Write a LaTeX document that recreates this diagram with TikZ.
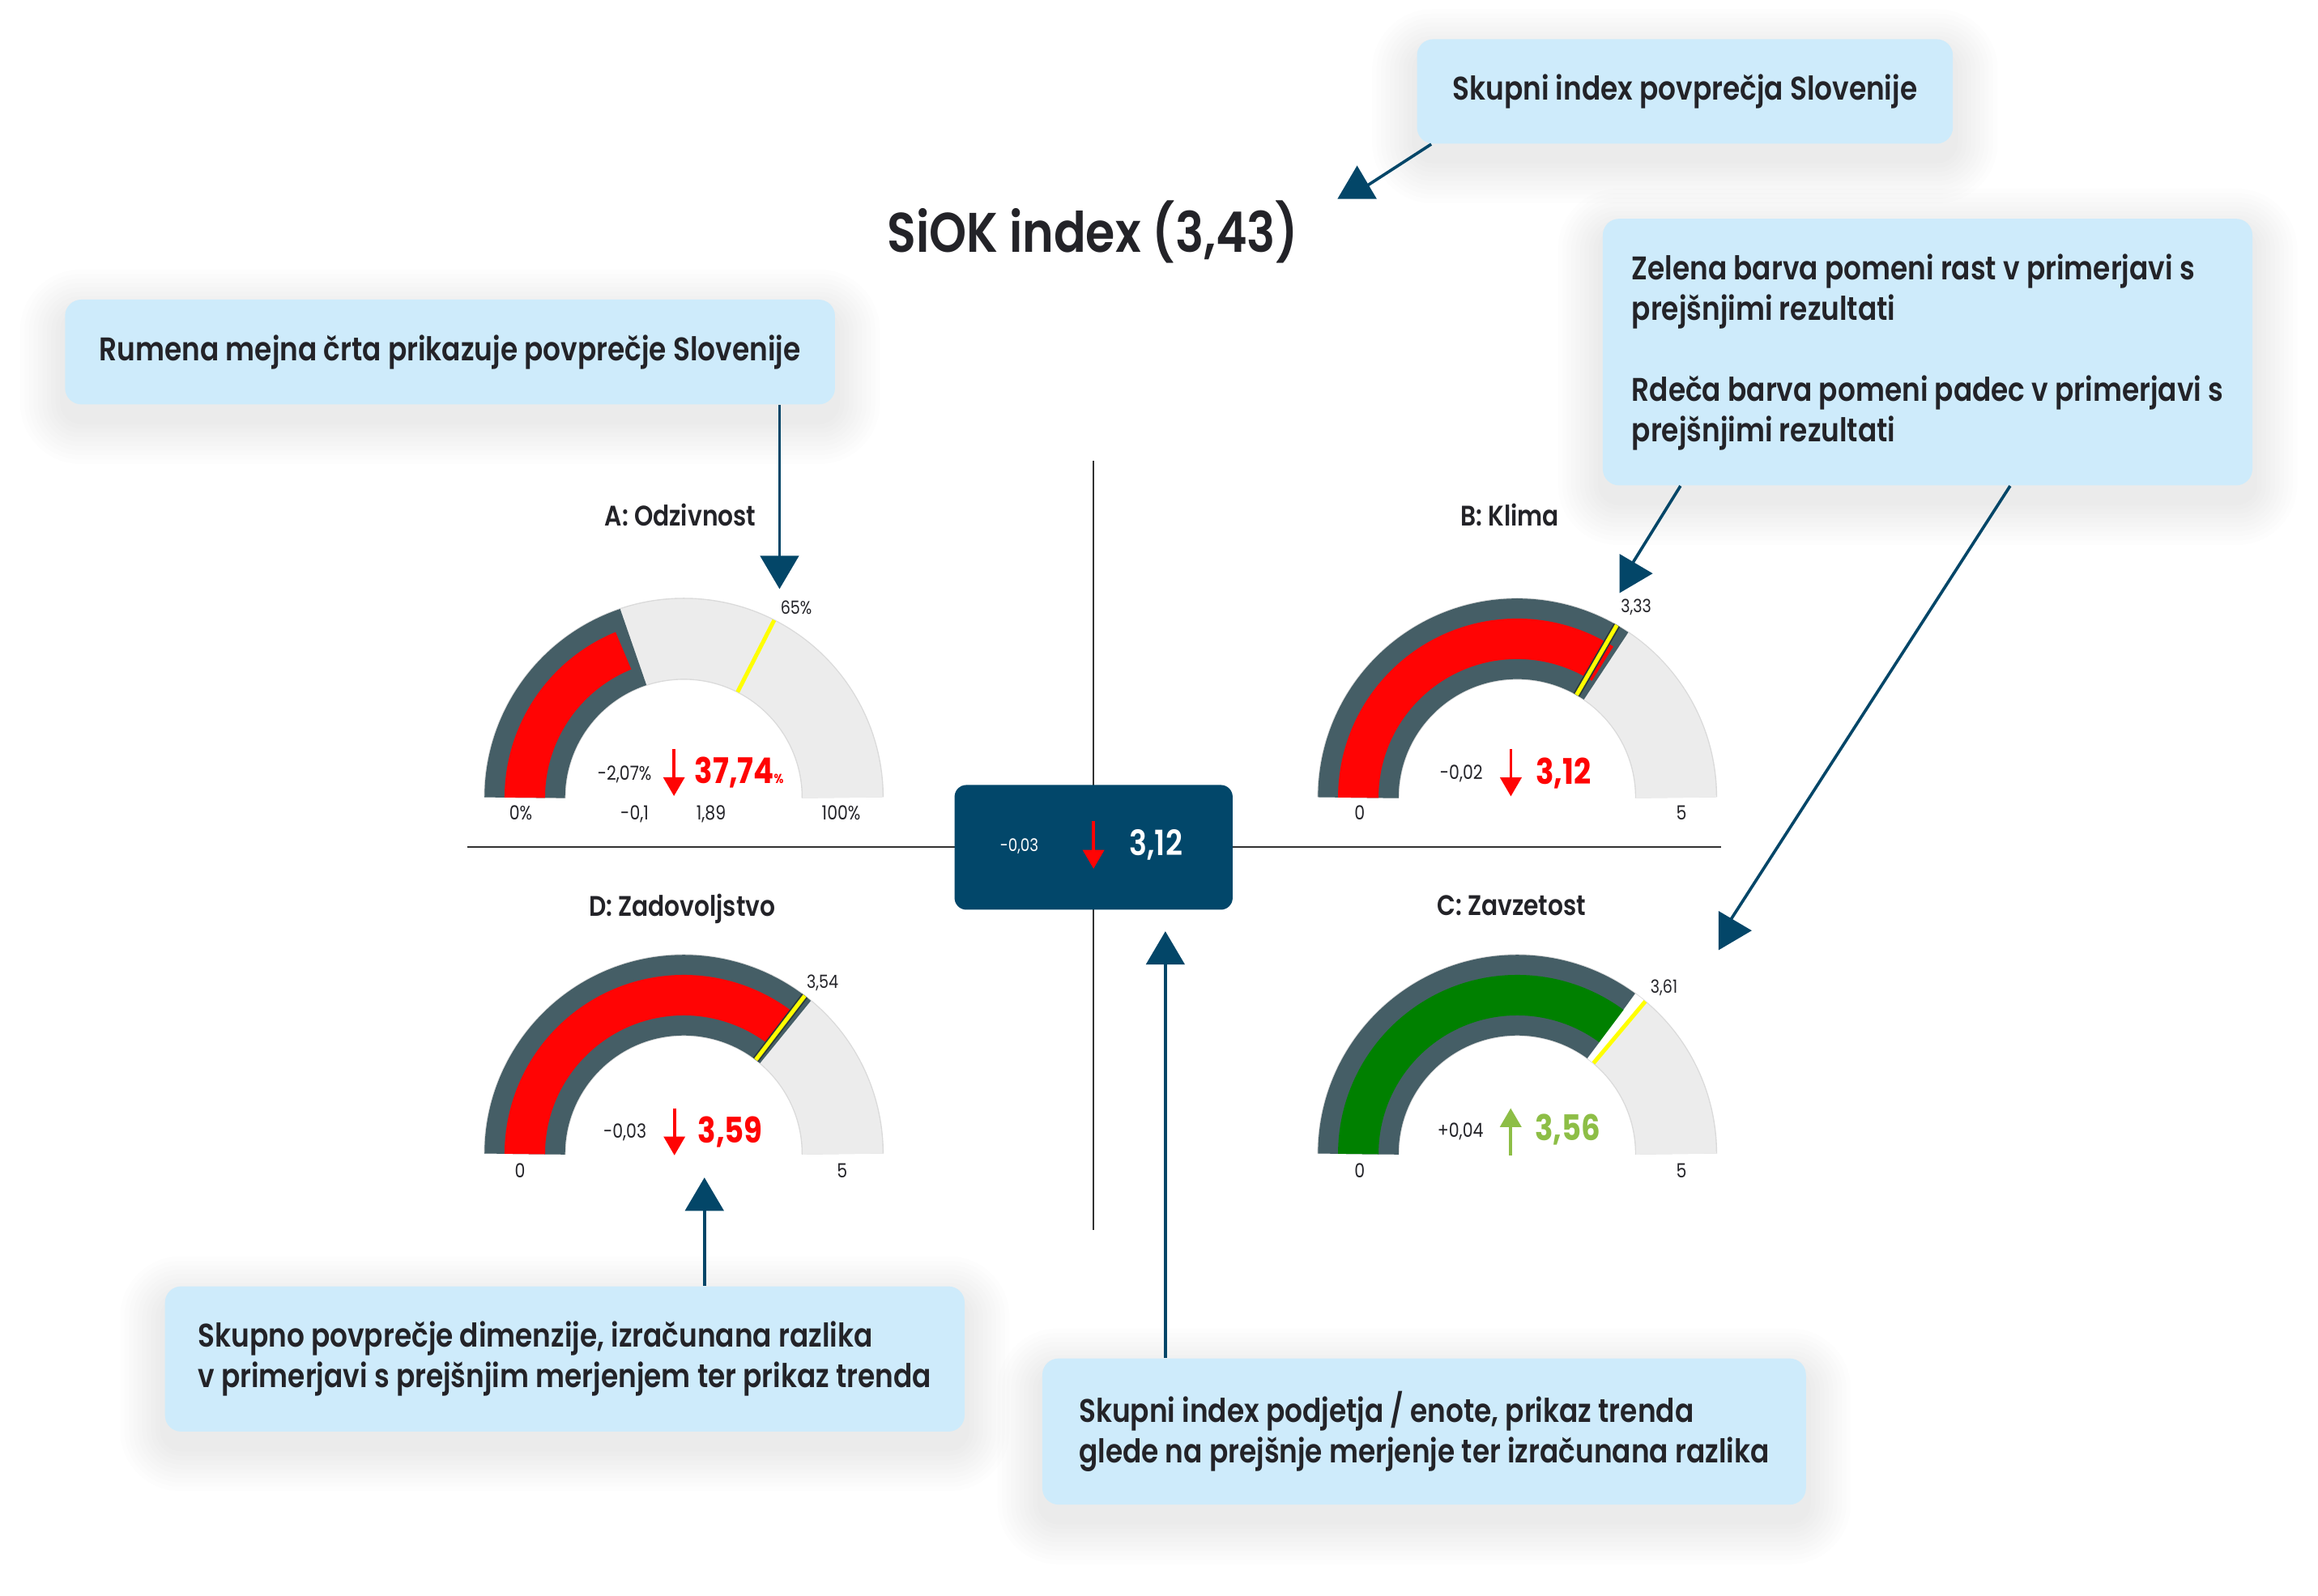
\documentclass[tikz,border=0pt]{standalone}
\usepackage{fontspec}
\setmainfont{Poppins}[FakeStretch=0.85]
\newfontfamily\semi{Poppins SemiBold}[FakeStretch=0.85]
\usetikzlibrary{arrows.meta}
\pgfdeclarelayer{paper}
\pgfdeclarelayer{shade}
\pgfsetlayers{paper,shade,main}

\definecolor{ink}{RGB}{35,35,40}
\definecolor{callblue}{RGB}{206,235,251}
\definecolor{navy}{RGB}{3,70,104}
\definecolor{boxnavy}{RGB}{2,71,106}
\definecolor{slate}{RGB}{69,94,102}
\definecolor{lightgrey}{RGB}{236,236,236}
\definecolor{bandline}{RGB}{218,218,218}
\definecolor{barred}{RGB}{255,4,4}
\definecolor{bargreen}{RGB}{0,128,0}
\definecolor{upgreen}{RGB}{141,190,70}
\definecolor{avgyellow}{RGB}{255,255,0}
\definecolor{rulegrey}{RGB}{50,50,50}

% one band of a gauge: style, centre, from angle, to angle
\newcommand\gaugeband[4]{\draw[#1] (#2) ++(-#3:107.5) arc[start angle=-#3, end angle=-#4, radius=107.5];}

\begin{document}
\begin{tikzpicture}[
        x=0.2mm, y=-0.2mm,
        every node/.style={inner sep=0pt, text=ink},
        callout/.style={fill=callblue, rounded corners=2.2mm, align=left,
            font=\semi\fontsize{12.6}{15.6}\selectfont},
        pointer/.style={draw=navy, line width=0.4mm, -{Triangle[width=5.2mm, length=4.5mm]}},
        heading/.style={font=\semi\fontsize{21.5}{26}\selectfont, anchor=base},
        gtitle/.style={font=\semi\fontsize{10.9}{13}\selectfont, anchor=base},
        scalelabel/.style={font=\fontsize{7.5}{9}\selectfont, anchor=base},
        avglabel/.style={font=\fontsize{7}{8}\selectfont, anchor=base},
        change/.style={font=\fontsize{7.5}{9}\selectfont, anchor=base},
        bigvalue/.style={font=\bfseries\fontsize{13.6}{16}\selectfont, anchor=base west},
        lightedge/.style={draw=bandline, line width=11.1mm},
        lightband/.style={draw=lightgrey, line width=10.8mm},
        slateband/.style={draw=slate, line width=10.9mm},
        redbar/.style={draw=barred, line width=5.48mm},
        greenbar/.style={draw=bargreen, line width=5.48mm},
        whitegap/.style={draw=white, line width=10.9mm},
        avgline/.style={draw=avgyellow, line width=0.55mm},
        avgedge/.style={draw=slate!60!black, line width=0.95mm},
        trenddown/.style={draw=barred, line width=0.4mm, -{Triangle[width=2.85mm, length=2.55mm]}},
        trendup/.style={draw=upgreen, line width=0.4mm, -{Triangle[width=2.85mm, length=2.55mm]}},
        divider/.style={draw=rulegrey, line width=0.25mm},
        totalbox/.style={fill=boxnavy, rounded corners=1.6mm, minimum width=37.62mm, minimum height=16.88mm},
        softshade/.style={fill=black, opacity=0.0075},
    ]

    \begin{pgfonlayer}{paper}
        \fill[white] (0,0) rectangle (1568,1079.3);
    \end{pgfonlayer}
    \useasboundingbox (0,0) rectangle (1568,1079.3);

    \node[heading] (siok) at (739.3,170.8) {SiOK index (3,43)};

    % cross and total
    \draw[divider] (739.7,312) -- (739.7,832);
    \draw[divider] (316,573) -- (1164,573);
    \node[totalbox] (total) at (739.75,573.3) {};
    \node[font=\fontsize{6.7}{8}\selectfont, text=white, anchor=base] (totald) at (689.5,576.2) {-0,03};
    \draw[trenddown] (739.7,555.6) -- (739.7,587.8);
    \node[font=\semi\fontsize{13.4}{15}\selectfont, text=white, anchor=base west] (totalv) at (763.8,579) {3,12};

    % A: Odzivnost
    \coordinate (gA) at (462.5,539.7);
    \gaugeband{lightedge}{gA}{180}{0}
    \gaugeband{lightband}{gA}{180}{0}
    \gaugeband{slateband}{gA}{180}{108.5}
    \gaugeband{redbar}{gA}{180}{112.3}
    \draw[avgline] (gA) ++(-63:80.3) -- ++(-63:54.5);
    \node[gtitle] (tA) at (460.3,355.8) {A: Odzivnost};
    \node[avglabel] (avgA) at (538.6,415.5) {65\%};
    \node[scalelabel] (minA) at (352.3,554.9) {0\%};
    \node[scalelabel] (maxA) at (569,554.9) {100\%};
    \node[scalelabel] (loA) at (429.3,554.9) {-0,1};
    \node[scalelabel] (hiA) at (481,554.9) {1,89};
    \node[change] (dA) at (422.5,527.8) {-2,07\%};
    \draw[trenddown] (455.9,506.8) -- (455.9,538.6);
    \node[bigvalue, text=barred] (vA) at (469.6,530) {37,74{\fontsize{5}{6}\selectfont\%}};

    % B: Klima
    \coordinate (gB) at (1026.3,539.7);
    \gaugeband{lightedge}{gB}{180}{0}
    \gaugeband{lightband}{gB}{180}{0}
    \gaugeband{slateband}{gB}{180}{56}
    \gaugeband{redbar}{gB}{180}{57.5}
    \draw[avgedge] (gB) ++(-60:80.3) -- ++(-60:54.5);
    \draw[avgline] (gB) ++(-60:80.3) -- ++(-60:54.5);
    \node[gtitle] (tB) at (1021.4,356) {B: Klima};
    \node[avglabel] (avgB) at (1106.7,414.2) {3,33};
    \node[scalelabel] (minB) at (919.7,554.7) {0};
    \node[scalelabel] (maxB) at (1137.4,554.7) {5};
    \node[change] (dB) at (988.5,527.5) {-0,02};
    \draw[trenddown] (1022,506.8) -- (1022,538.8);
    \node[bigvalue, text=barred] (vB) at (1038.6,530.6) {3,12};

    % D: Zadovoljstvo
    \coordinate (gD) at (462.5,780.8);
    \gaugeband{lightedge}{gD}{180}{0}
    \gaugeband{lightband}{gD}{180}{0}
    \gaugeband{slateband}{gD}{180}{50.2}
    \gaugeband{redbar}{gD}{180}{52.5}
    \draw[avgedge] (gD) ++(-52.6:80.3) -- ++(-52.6:54.5);
    \draw[avgline] (gD) ++(-52.6:80.3) -- ++(-52.6:54.5);
    \node[gtitle] (tD) at (461.4,620.1) {D: Zadovoljstvo};
    \node[avglabel] (avgD) at (556.4,668.5) {3,54};
    \node[scalelabel] (minD) at (351.8,796.7) {0};
    \node[scalelabel] (maxD) at (569.6,796.7) {5};
    \node[change] (dD) at (422.7,769.9) {-0,03};
    \draw[trenddown] (456.2,749.8) -- (456.2,781.7);
    \node[bigvalue, text=barred] (vD) at (471.8,773.5) {3,59};

    % C: Zavzetost
    \coordinate (gC) at (1026.3,780.8);
    \gaugeband{lightedge}{gC}{180}{0}
    \gaugeband{lightband}{gC}{180}{0}
    \gaugeband{slateband}{gC}{180}{53.6}
    \gaugeband{greenbar}{gC}{180}{52.5}
    \gaugeband{whitegap}{gC}{53.6}{50}
    \draw[avgline] (gC) ++(-50:80.3) -- ++(-50:54.5);
    \node[gtitle] (tC) at (1022.5,619.5) {C: Zavzetost};
    \node[avglabel] (avgC) at (1125.6,672) {3,61};
    \node[scalelabel] (minC) at (919.8,796.7) {0};
    \node[scalelabel] (maxC) at (1137.4,796.7) {5};
    \node[change] (dC) at (987.9,769.3) {+0,04};
    \draw[trendup] (1021.9,781.7) -- (1021.9,749.8);
    \node[bigvalue, text=upgreen] (vC) at (1038.1,771.7) {3,56};

    % callouts
    \node[callout, minimum width=72.5mm, minimum height=14.14mm] (skupni) at (1139.75,61.85)
        {Skupni index povprečja Slovenije};
    \node[callout, minimum width=104.16mm, minimum height=14.18mm] (rumena) at (304.4,238.15)
        {Rumena mejna črta prikazuje povprečje Slovenije};
    \node[callout, minimum width=87.88mm, minimum height=36.08mm] (barve) at (1303.9,238.2)
        {Zelena barva pomeni rast v primerjavi s\\prejšnjimi rezultati\\[15.6pt]Rdeča barva pomeni padec v primerjavi s\\prejšnjimi rezultati};
    \node[callout, minimum width=108.18mm, minimum height=19.66mm] (dimenzija) at (382.05,919.45)
        {Skupno povprečje dimenzije, izračunana razlika\\v primerjavi s prejšnjim merjenjem ter prikaz trenda};
    \node[callout, minimum width=103.3mm, minimum height=19.78mm] (podjetje) at (963.35,968.55)
        {Skupni index podjetja / enote, prikaz trenda\\glede na prejšnje merjenje ter izračunana razlika};

    % soft shadows under the callouts
    \begin{pgfonlayer}{shade}
        \foreach \c in {skupni, rumena, barve, dimenzija, podjetje}
            \foreach \k in {1,...,10}
                \fill[softshade, rounded corners={2.2mm+\k*0.6mm}]
                    ([xshift=-\k*0.6mm, yshift=\k*0.6mm-2mm]\c.north west)
                    rectangle ([xshift=\k*0.6mm, yshift=-\k*0.6mm-2mm]\c.south east);
    \end{pgfonlayer}

    % pointers
    \coordinate (hS) at (918,130);
    \coordinate (hA) at (527.3,398.5);
    \coordinate (hB) at (1100,388);
    \coordinate (hC) at (1166,629.6);
    \coordinate (hD) at (476.5,796.7);
    \coordinate (hT) at (788.3,630.1);
    \draw[pointer] ([xshift=2mm]skupni.south west) -- (hS) -- ++(0,-18);
    \draw[pointer] (rumena.south -| hA) -- (hA);
    \draw[pointer] ([xshift=10.58mm]barve.south west) -- (hB) -- ++(18,0);
    \draw[pointer] ([xshift=55.18mm]barve.south west) -- (hC) -- ++(19,0);
    \draw[pointer] (dimenzija.north -| hD) -- (hD);
    \draw[pointer] (podjetje.north -| hT) -- (hT);
\end{tikzpicture}
\end{document}
